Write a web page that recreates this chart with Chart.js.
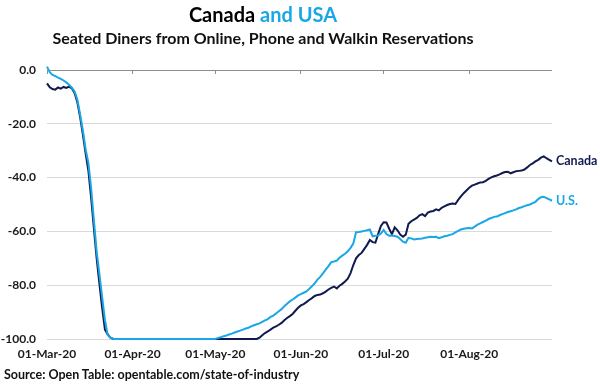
<!DOCTYPE html>
<html><head><meta charset="utf-8">
<script src="https://cdn.jsdelivr.net/npm/chart.js@4.4.1/dist/chart.umd.min.js"></script>
<style>
html,body{margin:0;padding:0;background:#fff;}
#wrap{position:relative;width:600px;height:391px;overflow:hidden;font-family:Lato,"Open Sans",sans-serif;}
#title{position:absolute;left:0;width:526px;top:2px;text-align:center;font-weight:700;font-size:20px;color:#000;line-height:24px;}
#title span{color:#19a7e6;}
#sub{position:absolute;left:0;width:526px;top:28px;text-align:center;font-weight:700;font-size:16px;line-height:20px;color:#111;}
#src{position:absolute;left:4px;top:367px;font-weight:700;font-size:12.5px;line-height:16px;color:#111;white-space:nowrap;}
canvas{position:absolute;left:0;top:0;}
</style></head>
<body>
<div id="wrap">
<canvas id="c" width="600" height="391"></canvas>
<div id="title">Canada <span>and USA</span></div>
<div id="sub">Seated Diners from Online, Phone and Walkin Reservations</div>
<div id="src">Source: Open Table: opentable.com/state-of-industry</div>
</div>
<script>
// Daily values, 01-Mar-20 .. 31-Aug-20 (% change vs 2019)
const canada = [
-5.0,-6.4,-7.1,-7.3,-6.5,-6.9,-6.3,-6.7,-6.2,-6.8,
-8.5,-12.0,-17.5,-24.0,-31.0,-37.5,-47.5,-59.0,-70.0,-79.5,
-88.5,-96.5,-98.3,-99.5,-100,-100,-100,-100,-100,-100,
-100,-100,-100,-100,-100,-100,-100,-100,-100,-100,
-100,-100,-100,-100,-100,-100,-100,-100,-100,-100,
-100,-100,-100,-100,-100,-100,-100,-100,-100,-100,
-100,-100,-100,-100,-100,-100,-100,-100,-100,-100,
-100,-100,-100,-100,-100,-100,-100,-99.5,-98.6,-97.8,
-97.2,-96.5,-95.8,-95.3,-94.7,-94.0,-93.0,-92.2,-91.5,-90.7,
-89.5,-88.4,-87.5,-87.0,-86.3,-85.5,-84.8,-84.0,-83.6,-83.5,
-83.0,-82.4,-81.6,-81.0,-80.5,-81.2,-80.2,-79.5,-78.6,-77.6,
-75.5,-72.5,-70.0,-68.8,-68.0,-66.5,-65.0,-63.2,-64.0,-64.2,
-61.0,-58.0,-56.6,-56.7,-59.0,-61.0,-58.5,-59.6,-61.2,-62.0,
-61.2,-57.2,-56.2,-55.6,-55.0,-54.0,-53.6,-54.3,-53.0,-52.6,
-52.4,-51.8,-52.2,-51.2,-50.7,-50.2,-49.8,-49.6,-49.8,-48.3,
-47.0,-45.8,-44.8,-43.8,-43.0,-42.6,-42.2,-41.8,-41.7,-41.2,
-40.5,-39.9,-39.5,-39.2,-38.8,-38.3,-37.9,-37.8,-38.4,-38.0,
-37.6,-37.5,-37.4,-37.0,-36.2,-35.3,-34.7,-34.0,-33.4,-32.6,
-32.1,-32.8,-33.4,-34.0
];
const usa = [
1.2,-0.8,-1.8,-2.3,-2.8,-3.3,-3.9,-4.6,-5.5,-6.6,
-8.0,-11.0,-16.5,-22.5,-29.5,-34.5,-44.0,-56.0,-67.5,-76.0,
-84.5,-93.0,-98.5,-99.5,-100,-100,-100,-100,-100,-100,
-100,-100,-100,-100,-100,-100,-100,-100,-100,-100,
-100,-100,-100,-100,-100,-100,-100,-100,-100,-100,
-100,-100,-100,-100,-100,-100,-100,-100,-100,-100,
-100,-100,-99.6,-99.3,-99.0,-98.7,-98.3,-98.0,-97.6,-97.2,
-96.9,-96.5,-96.1,-95.8,-95.3,-94.9,-94.5,-94.2,-93.6,-93.1,
-92.6,-91.8,-91.3,-90.5,-89.7,-88.9,-87.8,-86.9,-86.0,-85.3,
-84.6,-83.8,-83.3,-82.8,-82.3,-81.4,-80.4,-79.3,-77.9,-76.9,
-75.6,-74.2,-72.9,-71.4,-71.2,-70.9,-69.8,-69.0,-68.3,-67.4,
-66.1,-64.5,-60.3,-60.2,-60.0,-59.8,-59.6,-59.3,-61.8,-61.6,
-61.5,-60.8,-59.5,-61.0,-61.6,-61.5,-61.7,-62.0,-62.8,-63.8,
-64.2,-62.4,-62.6,-63.0,-62.8,-62.7,-62.6,-62.4,-62.2,-62.0,
-62.1,-62.0,-62.5,-62.2,-61.8,-61.6,-61.3,-61.0,-60.4,-59.8,
-59.3,-59.0,-58.8,-58.7,-58.9,-58.2,-57.5,-57.0,-56.5,-56.0,
-55.4,-55.0,-54.6,-54.5,-54.0,-53.6,-53.2,-52.8,-52.5,-52.2,
-51.8,-51.3,-51.0,-50.6,-50.3,-50.0,-49.5,-49.0,-48.0,-47.3,
-47.1,-47.6,-48.1,-48.6
];
const startDate = [2020, 2, 1];
const monthTicks = ['01-Mar-20','01-Apr-20','01-May-20','01-Jun-20','01-Jul-20','01-Aug-20'];
const yTicks = [0,-20,-40,-60,-80,-100];
const seriesNames = ['Canada','U.S.'];

const MONS = ['Jan','Feb','Mar','Apr','May','Jun','Jul','Aug','Sep','Oct','Nov','Dec'];
const categories = canada.map((_, i) => {
  const d = new Date(startDate[0], startDate[1], startDate[2] + i);
  return String(d.getDate()).padStart(2,'0') + '-' + MONS[d.getMonth()] + '-' + String(d.getFullYear()).slice(2);
});

const NAVY = '#111a4f', BLUE = '#19a7e6';
const FONT = 'Lato, "Open Sans", sans-serif';

const endLabels = {
  id: 'endLabels',
  afterDatasetsDraw(chart) {
    const ctx = chart.ctx;
    chart.data.datasets.forEach((ds, i) => {
      const meta = chart.getDatasetMeta(i);
      const pt = meta.data[meta.data.length - 1];
      ctx.save();
      ctx.font = 'bold 12.5px ' + FONT;
      ctx.fillStyle = ds.borderColor;
      ctx.textBaseline = 'middle';
      ctx.textAlign = 'left';
      ctx.fillText(ds.label, pt.x + 4, pt.y);
      ctx.restore();
    });
  }
};

const monthIdx = () => monthTicks.map(l => ({ value: categories.indexOf(l) }));

new Chart(document.getElementById('c'), {
  type: 'line',
  data: {
    labels: categories,
    datasets: [
      { label: seriesNames[0], data: canada, borderColor: NAVY, backgroundColor: NAVY, borderWidth: 2, pointRadius: 0, tension: 0, order: 1, clip: false },
      { label: seriesNames[1], data: usa, borderColor: BLUE, backgroundColor: BLUE, borderWidth: 2, pointRadius: 0, tension: 0, order: 0, clip: false }
    ]
  },
  options: {
    responsive: false,
    animation: false,
    layout: { padding: { left: 0, top: 70, right: 48, bottom: 28 } },
    plugins: { legend: { display: false }, tooltip: { enabled: false }, title: { display: false } },
    scales: {
      x: {
        type: 'category',
        offset: false,
        grid: { display: false, drawTicks: false },
        border: { display: false },
        afterBuildTicks: (axis) => { axis.ticks = monthIdx(); },
        afterFit: (axis) => { axis.height = 24; },
        ticks: { autoSkip: false, maxRotation: 0, padding: 8, color: '#1a1a1a', font: { family: FONT, size: 12, weight: 'bold' } }
      },
      x2: {
        type: 'category',
        axis: 'x',
        position: { y: 0 },
        offset: false,
        grid: { display: true, drawOnChartArea: false, drawTicks: true, tickLength: 4, color: '#8c8c8c' },
        border: { display: false },
        afterBuildTicks: (axis) => { axis.ticks = monthIdx(); },
        ticks: { display: false, autoSkip: false }
      },
      y: {
        min: -100, max: 0,
        afterBuildTicks: (axis) => { axis.ticks = yTicks.map(v => ({ value: v })); },
        afterFit: (axis) => { axis.width = 47; },
        border: { display: false },
        grid: { drawTicks: false, lineWidth: 1, color: (c) => (c.tick && c.tick.value === 0) ? '#8c8c8c' : '#d9d9d9' },
        ticks: { padding: 11, color: '#1a1a1a', font: { family: FONT, size: 12, weight: 'bold' }, callback: (v) => Number(v).toFixed(1) }
      }
    }
  },
  plugins: [endLabels]
});
</script>
</body></html>
